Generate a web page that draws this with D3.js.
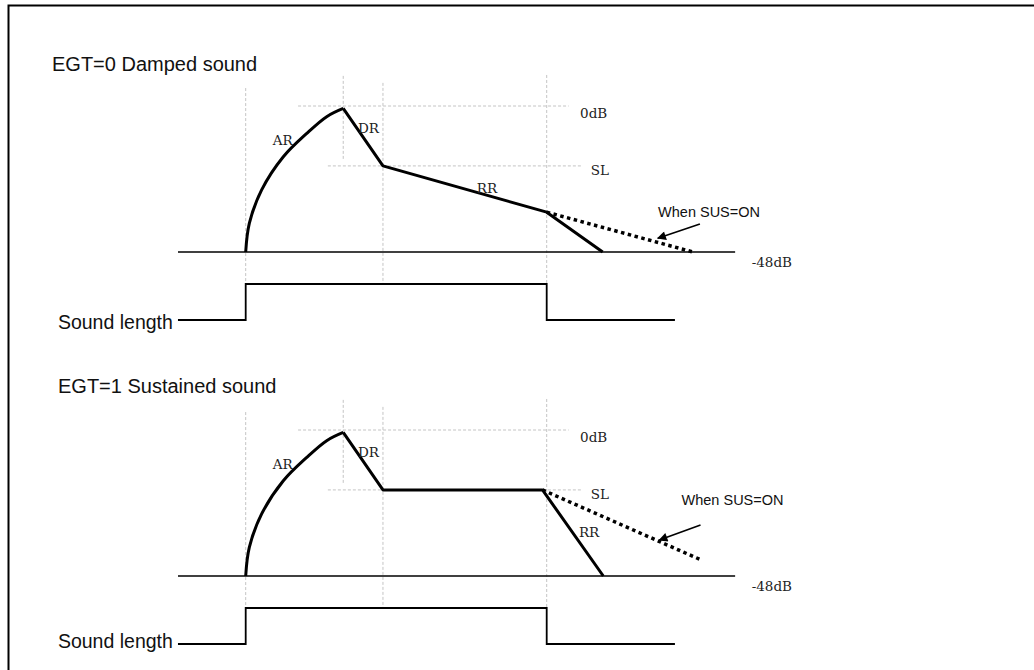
<!DOCTYPE html>
<html>
<head>
<meta charset="utf-8">
<script src="https://cdn.jsdelivr.net/npm/d3@7"></script>
<style>
  body { margin: 0; background: #fff; }
  .sans { font-family: "Liberation Sans", Arial, sans-serif; fill: #111; }
  .serif { font-family: "DejaVu Serif", serif; font-size: 13.5px; fill: #222; }
</style>
</head>
<body>
<svg id="chart"></svg>
<script>
// time: 0 = key on, 100 = key off; level in dB
const attackT  = [0, 1.2, 5.3, 12.5, 20.3, 26.9, 32.4];
const attackDb = [-48, -38.6, -27.6, -16.7, -9.0, -3.5, -0.8];

const dampedT  = [32.4, 45.6, 100, 118.6];
const dampedDb = [-0.8, -19.7, -34.9, -48];
const dampedSusT  = [100, 148.6];
const dampedSusDb = [-34.9, -48];

const sustainT  = [32.4, 45.6, 98.6, 118.8];
const sustainDb = [-0.8, -19.7, -19.7, -48];
const sustainSusT  = [98.6, 150.8];
const sustainSusDb = [-19.7, -42.5];

const floorT = [-22.5, 162.6];          // -48dB line extent
const gateT = [-22.5, 0, 0, 100, 100, 142.6];
const gateLevel = [0, 0, 1, 1, 0, 0];

const vGuideT = [0, 32.4, 45.6, 100];
const vGuideTopDb = [5.9, 9.9, 7.6, 10.2];
const vGuideEndDb = [null, -17.8, null, null]; // null = down to the gate
const hGuideDb = [0, -19.7];
const hGuideFrom = [17.4, 27.3];
const hGuideTo = [107.3, 111.5];

const titles = ['EGT=0 Damped sound', 'EGT=1 Sustained sound'];
const labelText = ['AR', 'DR', 'RR', '0dB', 'SL', '-48dB'];
const labelT = [
  [9.0, 37.3, 76.8, 111.1, 114.6, 168.1],
  [9.0, 37.3, 110.7, 111.1, 114.6, 168.1]
];
const labelDb = [
  [-12.8, -8.8, -28.5, -3.9, -22.7, -52.9],
  [-12.8, -8.8, -35.2, -3.9, -22.7, -52.9]
];
const susLabelT = [137, 144.8];
const susLabelDb = [-36.5, -24.8];
const arrowFrom = [[150.9, -38.8], [151.1, -31.2]];
const arrowTo = [[136.9, -43.5], [137.4, -36.2]];
const soundLenT = -24.2;
const soundLenGate = [-0.26, -0.1];

const width = 1034, height = 670;
const svg = d3.select('#chart').attr('width', width).attr('height', height);

svg.append('defs').append('marker')
  .attr('id', 'head')
  .attr('viewBox', '0 0 10 10')
  .attr('refX', 9).attr('refY', 5)
  .attr('markerWidth', 12).attr('markerHeight', 9)
  .attr('markerUnits', 'userSpaceOnUse')
  .attr('orient', 'auto')
  .append('path').attr('d', 'M0,0 L10,5 L0,10 z').attr('fill', '#000');

// frame (right and bottom edges fall outside the picture)
svg.append('rect')
  .attr('x', 8.5).attr('y', 5.5)
  .attr('width', 1040).attr('height', 700)
  .attr('fill', 'none').attr('stroke', '#000').attr('stroke-width', 2);

const x = d3.scaleLinear().domain([0, 100]).range([245.7, 546.7]);

const panels = [
  { envT: dampedT, envDb: dampedDb, susT: dampedSusT, susDb: dampedSusDb },
  { envT: sustainT, envDb: sustainDb, susT: sustainSusT, susDb: sustainSusDb }
];

panels.forEach((p, i) => {
  const off = i * 324;
  const y = d3.scaleLinear().domain([-48, 0]).range([252 + off, 106 + off]);
  const gy = d3.scaleLinear().domain([0, 1]).range([320 + off, 284 + off]);
  const g = svg.append('g');

  // guides
  vGuideT.forEach((t, k) => {
    g.append('line')
      .attr('x1', x(t)).attr('x2', x(t))
      .attr('y1', y(vGuideTopDb[k]))
      .attr('y2', vGuideEndDb[k] === null ? gy(1) : y(vGuideEndDb[k]))
      .attr('stroke', '#c4c4c4').attr('stroke-width', 1)
      .attr('stroke-dasharray', '3,2');
  });
  hGuideDb.forEach((d, k) => {
    g.append('line')
      .attr('x1', x(hGuideFrom[k])).attr('x2', x(hGuideTo[k]))
      .attr('y1', y(d)).attr('y2', y(d))
      .attr('stroke', '#c4c4c4').attr('stroke-width', 1)
      .attr('stroke-dasharray', '3,2');
  });

  // -48dB floor
  g.append('line')
    .attr('x1', x(floorT[0])).attr('x2', x(floorT[1]))
    .attr('y1', y(-48)).attr('y2', y(-48))
    .attr('stroke', '#000').attr('stroke-width', 1.6);

  // gate (sound length)
  const gateLine = d3.line().x(d => x(d[0])).y(d => gy(d[1]));
  g.append('path')
    .datum(d3.zip(gateT, gateLevel))
    .attr('fill', 'none').attr('stroke', '#000').attr('stroke-width', 1.8)
    .attr('d', gateLine);

  // envelope
  const curve = d3.line().x(d => x(d[0])).y(d => y(d[1])).curve(d3.curveCatmullRom.alpha(0.5));
  const straight = d3.line().x(d => x(d[0])).y(d => y(d[1]));

  g.append('path')
    .datum(d3.zip(p.susT, p.susDb))
    .attr('fill', 'none').attr('stroke', '#000').attr('stroke-width', 3.5)
    .attr('stroke-dasharray', '3.5,3.5')
    .attr('d', straight);

  g.append('path')
    .datum(d3.zip(attackT, attackDb))
    .attr('fill', 'none').attr('stroke', '#000').attr('stroke-width', 3)
    .attr('d', curve);

  g.append('path')
    .datum(d3.zip(p.envT, p.envDb))
    .attr('fill', 'none').attr('stroke', '#000').attr('stroke-width', 3)
    .attr('stroke-linejoin', 'round')
    .attr('d', straight);

  // arrow to the SUS line
  g.append('line')
    .attr('x1', x(arrowFrom[i][0])).attr('y1', y(arrowFrom[i][1]))
    .attr('x2', x(arrowTo[i][0])).attr('y2', y(arrowTo[i][1]))
    .attr('stroke', '#000').attr('stroke-width', 1.6)
    .attr('marker-end', 'url(#head)');

  // labels
  labelText.forEach((s, k) => {
    g.append('text').attr('class', 'serif')
      .attr('x', x(labelT[i][k])).attr('y', y(labelDb[i][k]))
      .text(s);
  });
  g.append('text').attr('class', 'sans')
    .attr('x', x(susLabelT[i])).attr('y', y(susLabelDb[i]))
    .style('font-size', '14.5px')
    .text('When SUS=ON');
  g.append('text').attr('class', 'sans')
    .attr('x', x(soundLenT)).attr('y', gy(soundLenGate[i]))
    .attr('text-anchor', 'end')
    .style('font-size', '19.5px')
    .text('Sound length');
});

svg.append('text').attr('class', 'sans')
  .attr('x', 52).attr('y', 71).style('font-size', '20px').text(titles[0]);
svg.append('text').attr('class', 'sans')
  .attr('x', 58).attr('y', 393).style('font-size', '20px').text(titles[1]);
</script>
</body>
</html>
